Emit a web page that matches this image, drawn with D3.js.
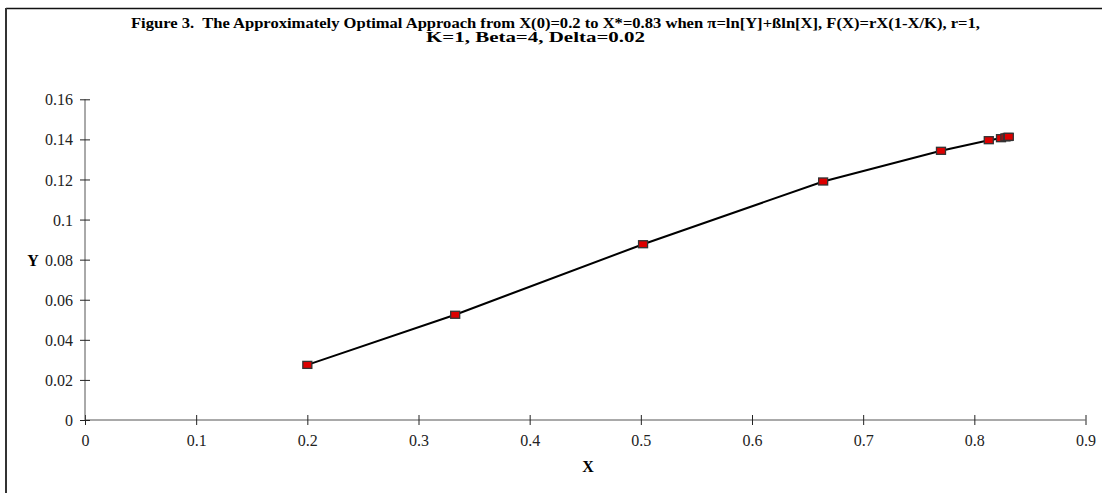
<!DOCTYPE html>
<html>
<head>
    <meta charset="UTF-8">
    <title>Figure 3</title>
    <script src="https://d3js.org/d3.v7.min.js"></script>
    <style>
        body { margin: 0; background: #fff; }
        svg { font-family: "Liberation Serif", "Times New Roman", serif; }
        .axis path { stroke: #555; }
        .axis line { stroke: #222; }
        .axis text { font-size: 16px; fill: #222; font-family: "Liberation Serif", serif; }
    </style>
</head>
<body>
    <svg></svg>
    <script>
        // path values
        const xValues = [0.2, 0.333, 0.502, 0.664, 0.770, 0.813, 0.824, 0.828, 0.830, 0.831];
        const yValues = [0.0275, 0.0525, 0.0877, 0.1190, 0.1343, 0.1396, 0.1406, 0.1410, 0.1412, 0.1413];
        const xTicks = [0, 0.1, 0.2, 0.3, 0.4, 0.5, 0.6, 0.7, 0.8, 0.9];
        const xTickLabels = ['0', '0.1', '0.2', '0.3', '0.4', '0.5', '0.6', '0.7', '0.8', '0.9'];
        const yTicks = [0, 0.02, 0.04, 0.06, 0.08, 0.1, 0.12, 0.14, 0.16];
        const yTickLabels = ['0', '0.02', '0.04', '0.06', '0.08', '0.1', '0.12', '0.14', '0.16'];
        const titleLines = [
            'Figure 3.\u00a0 The Approximately Optimal Approach from X(0)=0.2 to X*=0.83 when \u03c0=ln[Y]+\u00dfln[X], F(X)=rX(1-X/K), r=1,',
            'K=1, Beta=4, Delta=0.02'
        ];

        const points = xValues.map((x, i) => ({ x: x, y: yValues[i] }));

        const W = 1102, H = 493;
        const svg = d3.select('svg').attr('width', W).attr('height', H);

        // frame (cropped on right / bottom)
        svg.append('line').attr('x1', 6).attr('x2', W).attr('y1', 8.5).attr('y2', 8.5)
            .attr('stroke', '#111').attr('stroke-width', 1.5);
        svg.append('line').attr('x1', 6).attr('x2', 6).attr('y1', 8).attr('y2', H)
            .attr('stroke', '#333').attr('stroke-width', 2);

        const x = d3.scaleLinear().domain([0, 0.9]).range([85, 1085.5]);
        const y = d3.scaleLinear().domain([0, 0.16]).range([420, 99.3]);

        const xAxis = svg.append('g')
            .attr('class', 'axis')
            .attr('transform', `translate(0,${y(0)})`)
            .call(d3.axisBottom(x).tickValues(xTicks).tickSizeOuter(0)
                .tickFormat((d, i) => xTickLabels[i]));
        xAxis.selectAll('.tick line').attr('y1', -5).attr('y2', 5);
        xAxis.selectAll('.tick text').attr('y', 26).attr('dy', 0);

        const yAxis = svg.append('g')
            .attr('class', 'axis')
            .attr('transform', `translate(${x(0)},0)`)
            .call(d3.axisLeft(y).tickValues(yTicks).tickSizeOuter(0)
                .tickFormat((d, i) => yTickLabels[i]));
        yAxis.selectAll('.tick line').attr('x1', -5).attr('x2', 5);
        yAxis.selectAll('.tick text').attr('x', -12).attr('dy', '0.35em');
        yAxis.select('.domain').attr('d', `M0,${y(0)}V${y(0.16)}`);
        xAxis.select('.domain').attr('d', `M${x(0)},0H${x(0.9)}`);

        const line = d3.line().x(d => x(d.x)).y(d => y(d.y));
        svg.append('path')
            .datum(points)
            .attr('d', line)
            .attr('fill', 'none')
            .attr('stroke', '#000')
            .attr('stroke-width', 2);

        svg.selectAll('.marker')
            .data(points)
            .enter().append('rect')
            .attr('class', 'marker')
            .attr('x', d => x(d.x) - 4.5)
            .attr('y', d => y(d.y) - 3.5)
            .attr('width', 9)
            .attr('height', 7)
            .attr('fill', '#dd0000')
            .attr('stroke', '#333')
            .attr('stroke-width', 1.3);

        // title: source is stretched horizontally, so fit each line to its width
        svg.append('text')
            .attr('x', 131).attr('y', 28)
            .attr('font-size', '14px').attr('font-weight', 'bold')
            .attr('textLength', 849).attr('lengthAdjust', 'spacingAndGlyphs')
            .text(titleLines[0]);
        svg.append('text')
            .attr('x', 426).attr('y', 42)
            .attr('font-size', '14px').attr('font-weight', 'bold')
            .attr('textLength', 219).attr('lengthAdjust', 'spacingAndGlyphs')
            .text(titleLines[1]);

        svg.append('text')
            .attr('x', 588).attr('y', 472)
            .attr('text-anchor', 'middle')
            .attr('font-size', '16px').attr('font-weight', 'bold')
            .text('X');
        svg.append('text')
            .attr('x', 33).attr('y', 266)
            .attr('text-anchor', 'middle')
            .attr('font-size', '16px').attr('font-weight', 'bold')
            .text('Y');
    </script>
</body>
</html>
